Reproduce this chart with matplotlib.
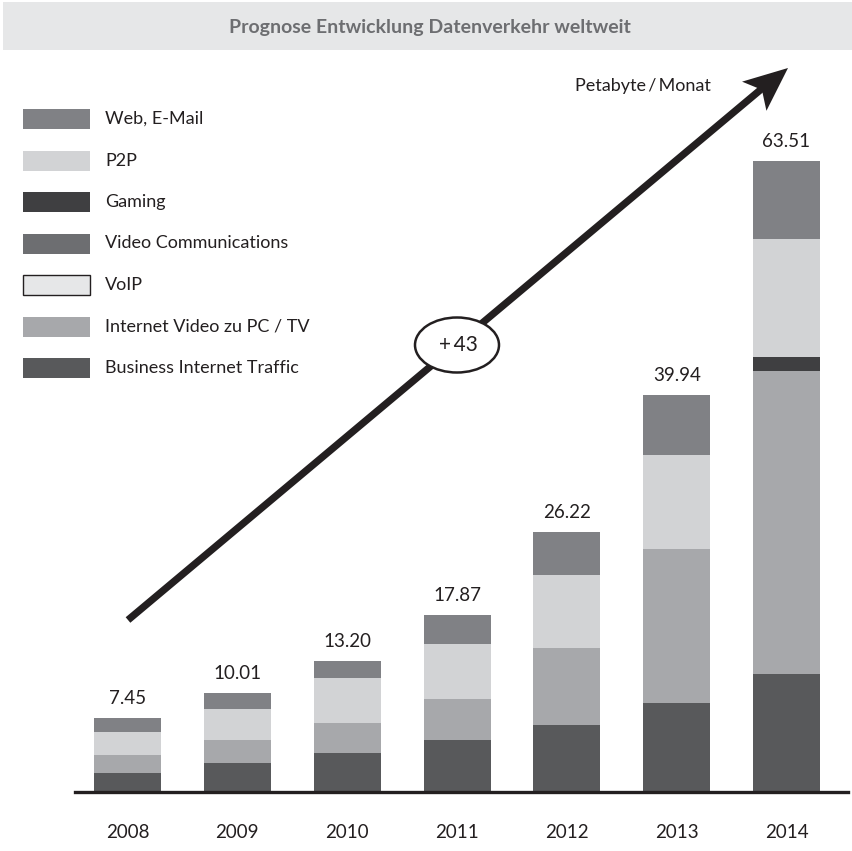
import matplotlib
matplotlib.use("Agg")
import matplotlib.pyplot as plt
from matplotlib.patches import Rectangle, Ellipse
import numpy as np

FONT = ['Lato', 'DejaVu Sans']
plt.rcParams['font.family'] = FONT

years = ['2008', '2009', '2010', '2011', '2012', '2013', '2014']
totals = [7.45, 10.01, 13.20, 17.87, 26.22, 39.94, 63.51]
business = [1.91, 2.90, 3.93, 5.28, 6.70, 9.00, 11.90]
internet_video = [1.81, 2.30, 3.02, 4.05, 7.80, 15.45, 30.50]
voip = [0, 0, 0, 0, 0, 0, 0]
video_comm = [0, 0, 0, 0, 0, 0, 0]
gaming = [0, 0, 0, 0, 0, 0, 1.41]
p2p = [2.32, 3.15, 4.54, 5.60, 7.40, 9.45, 11.90]
web = [1.41, 1.66, 1.71, 2.94, 4.32, 6.04, 7.80]

series_names = ['Business Internet Traffic', 'Internet Video zu PC / TV', 'VoIP',
                'Video Communications', 'Gaming', 'P2P', 'Web, E-Mail']
series_vals = [business, internet_video, voip, video_comm, gaming, p2p, web]
series_cols = ['#58595b', '#a7a8ab', '#e6e7e8', '#6d6e71', '#3f3f41', '#d2d3d5', '#808185']

W, H = 852, 851
fig = plt.figure(figsize=(W / 100, H / 100), dpi=100)

base_px = 792
scale = 9.93  # px per unit
ymax = 70
left_px, right_px = 75, 848
c0, c6 = 127.5, 786.5
xs = (c6 - c0) / 6
xmin = (left_px - c0) / xs
xmax = 6 + (right_px - c6) / xs
ax = fig.add_axes([left_px / W, (H - base_px) / H, (right_px - left_px) / W, ymax * scale / H])
ax.set_xlim(xmin, xmax)
ax.set_ylim(0, ymax)

x = np.arange(len(years))
bottom = np.zeros(len(years))
for name, vals, col in zip(series_names, series_vals, series_cols):
    v = np.array(vals, dtype=float)
    ax.bar(x, v, bottom=bottom, width=67 / xs, color=col, linewidth=0)
    bottom += v

for xi, t, top in zip(x, totals, bottom):
    ax.text(xi, top + 1.1, f"{t:.2f}", ha='center', va='bottom', fontsize=13.5, color='#231f20')

for s in ['top', 'right', 'left']:
    ax.spines[s].set_visible(False)
ax.spines['bottom'].set_linewidth(2.4)
ax.spines['bottom'].set_color('#231f20')
ax.set_yticks([])
ax.set_xticks(x)
ax.set_xticklabels(years, fontsize=13.5, color='#231f20')
ax.tick_params(axis='x', length=0, pad=23)

ov = fig.add_axes([0, 0, 1, 1], facecolor='none')
ov.set_xlim(0, W)
ov.set_ylim(H, 0)
ov.axis('off')

ov.add_patch(Rectangle((3, 2), W - 3, 48, facecolor='#e6e7e8', edgecolor='none'))
ov.text(430, 27, 'Prognose Entwicklung Datenverkehr weltweit', ha='center', va='center',
        fontsize=14, fontweight='bold', color='#6d6e71')

legend_order = ['Web, E-Mail', 'P2P', 'Gaming', 'Video Communications', 'VoIP',
                'Internet Video zu PC / TV', 'Business Internet Traffic']
col_map = dict(zip(series_names, series_cols))
for i, name in enumerate(legend_order):
    cy = 119 + i * 41.5
    ec = '#231f20' if name == 'VoIP' else 'none'
    ov.add_patch(Rectangle((23, cy - 10), 67, 20, facecolor=col_map[name], edgecolor=ec, linewidth=1))
    ov.text(105, cy, name, ha='left', va='center', fontsize=13, color='#231f20')

# arrow
ov.plot([128, 765], [620, 86], color='#231f20', linewidth=5.2, solid_capstyle='butt')
tip = np.array([788, 68])
dirv = np.array([788 - 128, 68 - 620], dtype=float)
dirv /= np.linalg.norm(dirv)
perp = np.array([-dirv[1], dirv[0]])
base = tip - dirv * 44
head = np.array([tip, base + perp * 19, base + dirv * 10, base - perp * 19])
ov.add_patch(plt.Polygon(head, closed=True, facecolor='#231f20', edgecolor='none'))
ov.text(643, 86, 'Petabyte\u2009/\u2009Monat', ha='center', va='center', fontsize=13, color='#231f20')

ov.add_patch(Ellipse((457, 345), 84, 55, facecolor='white', edgecolor='#231f20', linewidth=1.8, zorder=5))
ov.text(458, 345, '+\u200943', ha='center', va='center', fontsize=15, color='#231f20', zorder=6)

fig.savefig('out.png', dpi=100)
